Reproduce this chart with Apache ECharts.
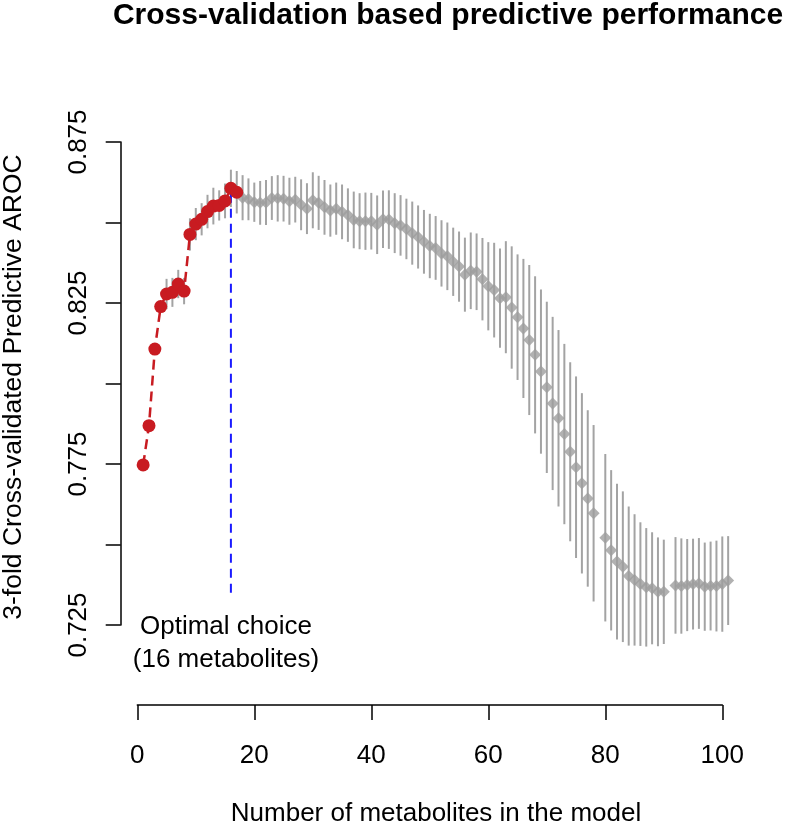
<!DOCTYPE html>
<html>
<head>
<meta charset="utf-8">
<script src="https://cdn.jsdelivr.net/npm/echarts@6/dist/echarts.min.js"></script>
<style>
html,body{margin:0;padding:0;background:#fff;}
#chart{width:787px;height:826px;}
</style>
</head>
<body>
<div id="chart"></div>
<script>
// Number of metabolites in the model
const metaboliteCounts = [1,2,3,4,5,6,7,8,9,10,11,12,13,14,15,16,17,18,19,20,21,22,23,24,25,26,27,28,29,30,
  31,32,33,34,35,36,37,38,39,40,41,42,43,44,45,46,47,48,49,50,51,52,53,54,55,56,57,58,59,60,
  61,62,63,64,65,66,67,68,69,70,71,72,73,74,75,76,77,78,79,80,81,82,83,84,85,86,87,88,89,90,
  91,92,93,94,95,96,97,98,99,100,101];
// Mean cross-validated AROC
const meanAROC = [0.7747,0.7869,0.8107,0.8239,0.8278,0.8283,0.8309,0.8287,0.8463,0.8495,
  0.8510,0.8534,0.8551,0.8553,0.8567,0.8606,0.8594,0.8577,0.8572,0.8563,
  0.8561,0.8562,0.8576,0.8575,0.8574,0.8566,0.8571,0.8555,0.8543,0.8569,
  0.8561,0.8547,0.8537,0.8543,0.8533,0.8523,0.8508,0.8504,0.8504,0.8504,
  0.8493,0.8510,0.8509,0.8498,0.8491,0.8480,0.8467,0.8455,0.8440,0.8427,
  0.8421,0.8404,0.8395,0.8378,0.8363,0.8338,0.8350,0.8347,0.8324,0.8302,
  0.8290,0.8265,0.8268,0.8236,0.8206,0.8171,0.8135,0.8089,0.8037,0.7988,
  0.7938,0.7892,0.7843,0.7788,0.7740,0.7690,0.7643,0.7597,null,0.7521,
  0.7482,0.7447,0.7431,0.7402,0.7390,0.7377,0.7367,0.7364,0.7353,0.7353,
  null,0.7373,0.7371,0.7374,0.7377,0.7379,0.7369,0.7371,0.7371,0.7377,0.7388];
// Standard deviation of AROC (error bar half-length)
const sdAROC = [null,null,null,null,0.0047,0.0045,0.0044,0.0041,0.0050,0.0050,
  0.0050,0.0052,0.0057,0.0047,0.0054,0.0058,0.0066,0.0070,0.0065,0.0061,
  0.0068,0.0070,0.0068,0.0072,0.0071,0.0073,0.0071,0.0079,0.0079,0.0087,
  0.0084,0.0085,0.0081,0.0081,0.0085,0.0083,0.0088,0.0087,0.0089,0.0088,
  0.0091,0.0089,0.0091,0.0093,0.0094,0.0094,0.0098,0.0098,0.0099,0.0100,
  0.0099,0.0103,0.0105,0.0106,0.0109,0.0115,0.0119,0.0119,0.0128,0.0137,
  0.0147,0.0154,0.0174,0.0190,0.0195,0.0216,0.0233,0.0244,0.0255,0.0266,
  0.0269,0.0274,0.0280,0.0278,0.0282,0.0280,0.0274,0.0274,null,0.0260,
  0.0249,0.0242,0.0234,0.0216,0.0204,0.0192,0.0184,0.0174,0.0169,0.0162,
  null,0.0150,0.0148,0.0143,0.0141,0.0141,0.0137,0.0138,0.0141,0.0148,0.0138];
const optimalN = 16;          // chosen model size
const lastRedN = 17;          // red-highlighted points up to this size
const optimalLineFloor = 0.735;
const xTicks = [0, 20, 40, 60, 80, 100];
const yTickLabels = ['0.725', '0.775', '0.825', '0.875'];

const redData = [], grayData = [], errData = [];
metaboliteCounts.forEach((n, i) => {
  const m = meanAROC[i];
  if (m === null) return;
  if (n <= lastRedN) redData.push([n, m]); else grayData.push([n, m]);
  if (sdAROC[i] !== null) errData.push([n, m - sdAROC[i], m + sdAROC[i]]);
});
const optIdx = metaboliteCounts.indexOf(optimalN);
const optLine = [[optimalN, optimalLineFloor], [optimalN, meanAROC[optIdx]]];

const FONT = '"Liberation Sans", Arial, Helvetica, sans-serif';
const chart = echarts.init(document.getElementById('chart'), null, {renderer: 'canvas'});
chart.setOption({
  animation: false,
  backgroundColor: '#ffffff',
  grid: {left: 137.3, right: 64.7, top: 142, bottom: 201, containLabel: false},
  xAxis: {
    type: 'value', min: xTicks[0], max: xTicks[xTicks.length - 1], interval: 20,
    offset: 80,
    axisLine: {show: true, onZero: false, lineStyle: {color: '#000', width: 1.5}},
    axisTick: {show: true, length: 15, lineStyle: {color: '#000', width: 1.5}},
    axisLabel: {color: '#000', fontSize: 26, fontFamily: FONT, margin: 38},
    splitLine: {show: false}
  },
  yAxis: {
    type: 'value', min: 0.725, max: 0.875, interval: 0.025,
    offset: 16.6,
    axisLine: {show: true, onZero: false, lineStyle: {color: '#000', width: 1.5}},
    axisTick: {show: true, length: 15, lineStyle: {color: '#000', width: 1.5}},
    axisLabel: {
      color: '#000', fontSize: 26, fontFamily: FONT, rotate: 90, margin: 29,
      formatter: v => {
        const s = v.toFixed(3);
        return yTickLabels.indexOf(s) >= 0 ? s : '';
      }
    },
    splitLine: {show: false}
  },
  graphic: [
    {type: 'text', style: {text: 'Cross-validation based predictive performance', x: 448, y: 16,
      font: 'bold 30px ' + FONT, fill: '#000', textAlign: 'center', textVerticalAlign: 'middle'}},
    {type: 'text', style: {text: 'Number of metabolites in the model', x: 436, y: 814,
      font: '26px ' + FONT, fill: '#000', textAlign: 'center', textVerticalAlign: 'middle'}},
    {type: 'text', x: 14, y: 387, rotation: Math.PI / 2, style: {text: '3-fold Cross-validated Predictive AROC', x: 0, y: 0,
      font: '26.5px ' + FONT, fill: '#000', textAlign: 'center', textVerticalAlign: 'middle'}},
    {type: 'text', style: {text: 'Optimal choice', x: 226, y: 627,
      font: '26px ' + FONT, fill: '#000', textAlign: 'center', textVerticalAlign: 'middle'}},
    {type: 'text', style: {text: '(16 metabolites)', x: 226, y: 660,
      font: '26px ' + FONT, fill: '#000', textAlign: 'center', textVerticalAlign: 'middle'}}
  ],
  series: [
    {
      type: 'custom', name: 'sd', clip: false, z: 1,
      encode: {x: 0, y: [1, 2]},
      data: errData,
      renderItem: (params, api) => {
        const p1 = api.coord([api.value(0), api.value(1)]);
        const p2 = api.coord([api.value(0), api.value(2)]);
        return {type: 'line', shape: {x1: p1[0], y1: p1[1], x2: p2[0], y2: p2[1]},
          style: {stroke: '#a3a3a3', lineWidth: 2}};
      }
    },
    {
      type: 'scatter', name: 'gray', clip: false, z: 2,
      symbol: 'diamond', symbolSize: 12,
      itemStyle: {color: '#9e9e9e'},
      data: grayData
    },
    {
      type: 'line', name: 'optimal', clip: false, z: 3,
      symbol: 'none',
      lineStyle: {color: '#1a1aff', width: 2, type: [9, 6]},
      data: optLine
    },
    {
      type: 'line', name: 'red', clip: false, z: 4,
      symbol: 'circle', symbolSize: 13, showSymbol: true,
      lineStyle: {color: '#c81b21', width: 2.5, type: [10, 6]},
      itemStyle: {color: '#c81b21', borderWidth: 0},
      data: redData
    }
  ]
});
</script>
</body>
</html>
